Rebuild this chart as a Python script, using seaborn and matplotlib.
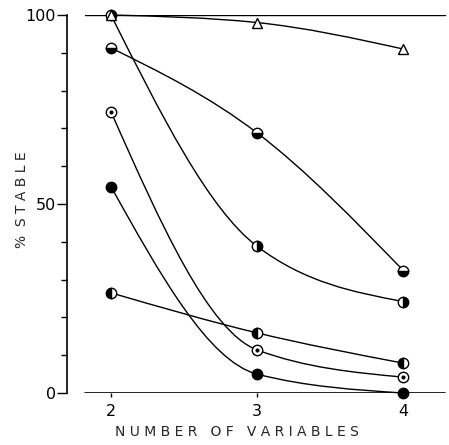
import matplotlib
matplotlib.use("Agg")
import matplotlib.pyplot as plt
from matplotlib.path import Path
from matplotlib.patches import PathPatch
from matplotlib.ticker import MultipleLocator
import numpy as np
import seaborn as sns

# values (% stable vs number of variables)
n_vars = [2, 3, 4]
open_triangle = [100, 98, 91]
half_bottom = [91.3, 68.8, 32.4]
half_right = [100, 38.8, 24.2]
half_left = [26.5, 15.9, 7.9]
dotted_circle = [74.4, 11.4, 4.2]
solid_circle = [54.6, 5.0, 0.0]

x_ticks = [2, 3, 4]
y_ticks = [0, 50, 100]


# smooth monotone connector through the measured points (drawing only)
def smooth_path(xs, ys):
    xs = np.asarray(xs, float)
    ys = np.asarray(ys, float)
    h = np.diff(xs)
    d = np.diff(ys) / h
    m = np.zeros_like(ys)
    for i in range(1, len(xs) - 1):
        if d[i - 1] * d[i] > 0:
            p = (d[i - 1] * h[i] + d[i] * h[i - 1]) / (h[i - 1] + h[i])
            m[i] = 2 * np.sign(d[i]) * min(abs(d[i - 1]), abs(d[i]), 0.5 * abs(p))
    m[0] = (3 * d[0] - m[1]) / 2
    m[-1] = (3 * d[-1] - m[-2]) / 2
    verts = [(xs[0], ys[0])]
    codes = [Path.MOVETO]
    for i in range(len(xs) - 1):
        verts += [(xs[i] + h[i] / 3, ys[i] + m[i] * h[i] / 3),
                  (xs[i + 1] - h[i] / 3, ys[i + 1] - m[i + 1] * h[i] / 3),
                  (xs[i + 1], ys[i + 1])]
        codes += [Path.CURVE4] * 3
    return Path(verts, codes)


sns.set_theme(style="ticks")
plt.rcParams["font.family"] = ["DejaVu Sans"]

fig = plt.figure(figsize=(4.49, 4.45), dpi=100)
ax = fig.add_axes([67 / 449, 52 / 445, 382 / 449, 378 / 445])

circle = dict(marker="o", markersize=7.5, markeredgecolor="black",
              markeredgewidth=1.0, markerfacecolor="black",
              markerfacecoloralt="white")

series = [
    (half_right, dict(circle, fillstyle="right"), 3),
    (half_bottom, dict(circle, fillstyle="bottom"), 3),
    (half_left, dict(circle, fillstyle="left"), 3),
    (dotted_circle, dict(circle, markerfacecolor="white"), 3),
    (solid_circle, dict(circle, fillstyle="full"), 3),
    (open_triangle, dict(marker="^", markersize=6.5, markeredgecolor="black",
                         markeredgewidth=1.0, markerfacecolor="white"), 5),
]

for vals, style, z in series:
    ax.add_patch(PathPatch(smooth_path(n_vars, vals), facecolor="none",
                           edgecolor="black", lw=1.0, zorder=2, clip_on=False))
    sns.lineplot(x=n_vars, y=vals, ax=ax, linestyle="none", clip_on=False,
                 zorder=z, **style)

# centre dot of the dotted circles
sns.lineplot(x=n_vars, y=dotted_circle, ax=ax, linestyle="none", marker="o",
             markersize=2.2, markerfacecolor="black", markeredgecolor="black",
             clip_on=False, zorder=4)

# frame lines at 0 and 100
ax.axhline(100, xmin=0.047, xmax=0.99, color="black", lw=1.0, zorder=1)
ax.axhline(0, xmin=0.047, xmax=0.99, color="black", lw=1.2, zorder=1)

ax.set_xlim(1.699, 4.313)
ax.set_ylim(0, 100)
for side in ["top", "right", "bottom"]:
    ax.spines[side].set_visible(False)
ax.spines["left"].set_linewidth(1.2)
ax.spines["left"].set_color("black")

ax.set_xticks(x_ticks)
ax.set_yticks(y_ticks)
ax.yaxis.set_minor_locator(MultipleLocator(10))
ax.tick_params(axis="x", direction="out", length=3, width=1, pad=5,
               labelsize=11.5, colors="black")
ax.tick_params(axis="y", which="major", direction="out", length=7, width=1,
               pad=1, labelsize=11.5, colors="black")
ax.tick_params(axis="y", which="minor", direction="out", length=4, width=1,
               colors="black")

ax.set_xlabel("N U M B E R   O F   V A R I A B L E S", fontsize=10)
ax.xaxis.set_label_coords((237 - 67) / 382, (393 - 432) / 378)
ax.xaxis.label.set_va("center")
ax.set_ylabel("%  S T A B L E", fontsize=10)
ax.yaxis.set_label_coords((22 - 67) / 382, (393 - 200) / 378)
ax.yaxis.label.set_va("center")
ax.yaxis.label.set_ha("center")

fig.savefig("out.png", dpi=100)
